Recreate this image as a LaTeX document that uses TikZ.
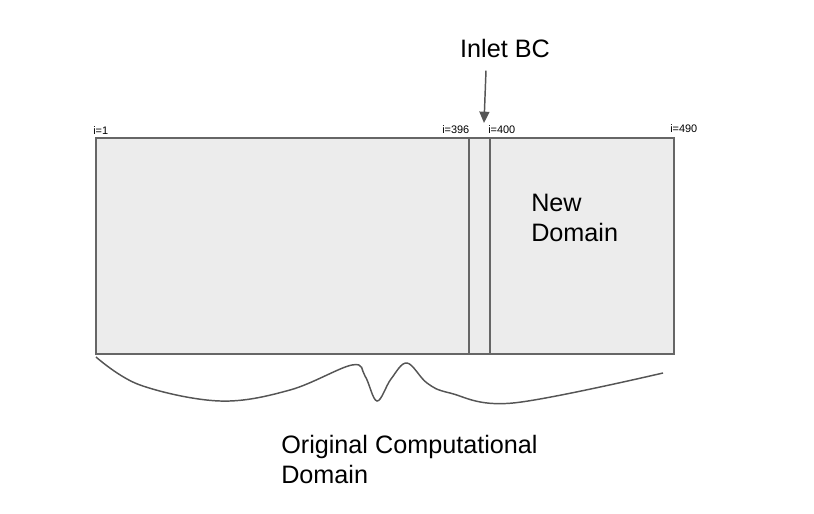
\documentclass[tikz,border=0pt]{standalone}
\usepackage{fontspec}
\setmainfont{Liberation Sans}
\usetikzlibrary{arrows.meta,positioning}
\definecolor{boxgray}{HTML}{ECECEC}
\definecolor{linegray}{HTML}{666666}
\definecolor{curvegray}{HTML}{555555}

\begin{document}
\begin{tikzpicture}[x=0.75pt,y=-0.75pt,
  idx/.style={font=\fontsize{8.2}{9}\selectfont,inner sep=0pt,anchor=base west},
  lbl/.style={font=\fontsize{18.9}{22.5}\selectfont,align=left,inner sep=0pt},
  bcarrow/.style={-{Triangle[length=8.5pt,width=7.5pt]},curvegray,line width=1.1pt}]
\useasboundingbox (0,0) rectangle (814,514);
% computational domain
\draw[fill=boxgray,draw=linegray,line width=1.5pt] (96,138) rectangle (674,354);
\draw[linegray,line width=1.5pt] (469,138) -- (469,354) (490,138) -- (490,354);
% grid indices
\node[idx] (i1) at (93,134) {i=1};
\node[idx] (i396) at (442,133) {i=396};
\node[idx] (i400) at (488,133) {i=400};
\node[idx] (i490) at (670,132) {i=490};
% inlet boundary
\node[lbl,anchor=base] (inlet) at (505,57) {Inlet BC};
\coordinate (bc) at (484,123);
\draw[bcarrow] ([xshift=-14.25pt,yshift=-9.75pt]inlet.south) -- (bc);
% new domain
\node[lbl,anchor=north west] (newdom) at (531,194) {New\\Domain};
% brace under the original domain
\draw[curvegray,line width=1.1pt] plot[smooth,tension=0.6] coordinates {
  (96,357) (140,385) (220,401) (290,390) (352,365) (365,376) (377,401)
  (391,379) (407,363) (427,383) (450,393) (513,403) (663,373)};
\node[lbl,anchor=north west] (origdom) at (281,435) {Original Computational\\Domain};
\end{tikzpicture}
\end{document}
